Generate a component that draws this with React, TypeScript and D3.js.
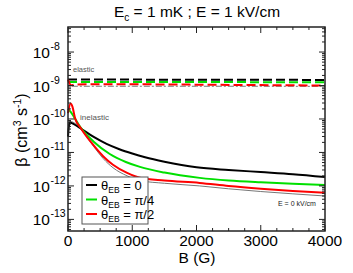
import React from 'react';
import * as d3 from 'd3';

// Magnetic field (G) and rates (cm^3 s^-1)
const elasticB = [0, 500, 1000, 2000, 3000, 4000];
const elasticBlack = [1.5e-9, 1.5e-9, 1.5e-9, 1.49e-9, 1.48e-9, 1.47e-9];
const elasticGreen = [1.28e-9, 1.28e-9, 1.27e-9, 1.27e-9, 1.26e-9, 1.25e-9];
const elasticRedB = [0, 50, 100, 500, 1000, 2000, 3000, 4000];
const elasticRed = [1.5e-9, 1.02e-9, 1.06e-9, 1.1e-9, 1.09e-9, 1.06e-9, 1.03e-9, 1.0e-9];
const elasticGrayB = [60, 500, 1000, 2000, 3000, 4000];
const elasticGray = [9.5e-10, 9.5e-10, 9.5e-10, 9.5e-10, 9.5e-10, 9.4e-10];

const inelBlackB = [0, 25, 60, 120, 200, 400, 600, 800, 1000, 1200, 1500, 2000, 2500, 3000, 3500, 4000];
const inelBlack = [3e-11, 8e-11, 7.5e-11, 6.5e-11, 5.2e-11, 2.9e-11, 1.8e-11, 1.25e-11, 9.3e-12, 7.2e-12, 5.3e-12, 3.6e-12, 3.0e-12, 2.6e-12, 2.25e-12, 1.85e-12];
const inelGreenB = [0, 50, 100, 200, 400, 650, 900, 1120, 1500, 2050, 2500, 3000, 3500, 4000];
const inelGreen = [2.0e-10, 1.55e-10, 1.1e-10, 5.4e-11, 2.1e-11, 9e-12, 5.2e-12, 3.7e-12, 2.5e-12, 1.74e-12, 1.45e-12, 1.28e-12, 1.16e-12, 1.07e-12];
const inelRedB = [0, 40, 70, 110, 200, 390, 550, 700, 920, 1120, 1500, 2050, 2500, 3000, 3500, 4000];
const inelRed = [1.5e-10, 2.9e-10, 2.3e-10, 1.05e-10, 5.3e-11, 1.7e-11, 7.6e-12, 4.3e-12, 2.45e-12, 1.75e-12, 1.45e-12, 1.23e-12, 1.0e-12, 8.3e-13, 7.1e-13, 6.2e-13];
const inelGrayB = [0, 30, 80, 200, 400, 550, 700, 920, 1120, 1500, 2050, 2500, 3000, 3500, 4000];
const inelGray = [4e-11, 8.5e-11, 8e-11, 5e-11, 1.5e-11, 6.5e-12, 3.5e-12, 2.0e-12, 1.45e-12, 1.2e-12, 1.0e-12, 8.2e-13, 6.8e-13, 5.8e-13, 5.0e-13];

const xTicks = [0, 1000, 2000, 3000, 4000];
const yExponents = [-8, -9, -10, -11, -12, -13];
const legendLabels = ['0', 'π/4', 'π/2'];
const seriesColors = ['#000000', '#00e000', '#ff0000'];

const FONT = 'Liberation Sans, Arial, Helvetica, sans-serif';
const W = 353;
const H = 273;
const left = 68, right = 325, top = 27, bottom = 231;

export default function App() {
  const x = d3.scaleLinear().domain([0, 4000]).range([left, right]);
  const y = d3.scaleLog().domain([4.5e-14, 5.6e-8]).range([bottom, top]);

  const line = (bs: number[], vs: number[]) =>
    d3.line<number>()
      .x((_, i) => x(bs[i]))
      .y(d => y(d))
      .curve(d3.curveMonotoneX)(vs) || '';

  const xMinor = d3.range(0, 4001, 250).filter(v => v % 1000 !== 0);
  const yMinor: number[] = [];
  for (let e = -14; e <= -8; e++) {
    for (let m = 2; m <= 9; m++) {
      const v = m * Math.pow(10, e);
      if (v > 4.5e-14 && v < 5.6e-8) yMinor.push(v);
    }
  }

  const axisColor = '#222';

  return (
    <svg width={W} height={H} style={{ position: 'absolute', left: 0, top: 0 }} fontFamily={FONT}>
      <rect width={W} height={H} fill="#fff" />
      {/* title */}
      <text x={197} y={17} fontSize={15.5} textAnchor="middle">
        E<tspan fontSize={10} dy={4}>c</tspan><tspan dy={-4}> = 1 mK ; E = 1 kV/cm</tspan>
      </text>

      {/* curves */}
      <g fill="none">
        <path d={line(inelGrayB, inelGray)} stroke="#777" strokeWidth={1} />
        <path d={line(inelBlackB, inelBlack)} stroke={seriesColors[0]} strokeWidth={2} />
        <path d={line(inelGreenB, inelGreen)} stroke={seriesColors[1]} strokeWidth={2} />
        <path d={line(inelRedB, inelRed)} stroke={seriesColors[2]} strokeWidth={2} />
        <path d={line(elasticGrayB, elasticGray)} stroke="#777" strokeWidth={1} strokeDasharray="6,2,2,2" />
        <path d={line(elasticB, elasticBlack)} stroke={seriesColors[0]} strokeWidth={2} strokeDasharray="9,4" />
        <path d={line(elasticB, elasticGreen)} stroke={seriesColors[1]} strokeWidth={2} strokeDasharray="9,4" />
        <path d={line(elasticRedB, elasticRed)} stroke={seriesColors[2]} strokeWidth={2} strokeDasharray="9,4" />
      </g>

      {/* frame */}
      <rect x={left} y={top} width={right - left} height={bottom - top} fill="none" stroke={axisColor} strokeWidth={1.5} />

      {/* x ticks */}
      <g stroke={axisColor} strokeWidth={1}>
        {xTicks.map(t => (
          <g key={'xt' + t}>
            <line x1={x(t)} x2={x(t)} y1={bottom} y2={bottom - 6} />
            <line x1={x(t)} x2={x(t)} y1={top} y2={top + 6} />
          </g>
        ))}
        {xMinor.map(t => (
          <g key={'xm' + t}>
            <line x1={x(t)} x2={x(t)} y1={bottom} y2={bottom - 3} />
            <line x1={x(t)} x2={x(t)} y1={top} y2={top + 3} />
          </g>
        ))}
        {yExponents.map(e => (
          <g key={'yt' + e}>
            <line x1={left} x2={left + 6} y1={y(Math.pow(10, e))} y2={y(Math.pow(10, e))} />
            <line x1={right} x2={right - 6} y1={y(Math.pow(10, e))} y2={y(Math.pow(10, e))} />
          </g>
        ))}
        {yMinor.map((v, i) => (
          <g key={'ym' + i}>
            <line x1={left} x2={left + 3} y1={y(v)} y2={y(v)} />
            <line x1={right} x2={right - 3} y1={y(v)} y2={y(v)} />
          </g>
        ))}
      </g>

      {/* x tick labels */}
      {xTicks.map(t => (
        <text key={'xl' + t} x={x(t)} y={246} fontSize={15.5} textAnchor="middle">{t}</text>
      ))}
      <text x={197} y={263} fontSize={15.5} textAnchor="middle">B (G)</text>

      {/* y tick labels */}
      {yExponents.map(e => (
        <text key={'yl' + e} x={50} y={y(Math.pow(10, e)) + 6} fontSize={15.5} textAnchor="end">
          10
        </text>
      ))}
      {yExponents.map(e => (
        <text key={'ye' + e} x={50.5} y={y(Math.pow(10, e)) - 2} fontSize={10.5}>
          {'-' + Math.abs(e)}
        </text>
      ))}

      {/* y axis label */}
      <text transform="translate(27,130) rotate(-90)" fontSize={16} textAnchor="middle">
        β (cm<tspan fontSize={10.5} dy={-6}>3</tspan><tspan dy={6}> s</tspan><tspan fontSize={10.5} dy={-6}>-1</tspan><tspan dy={6}>)</tspan>
      </text>

      {/* annotations */}
      <text x={73} y={72} fontSize={7.5} fill="#555">elastic</text>
      <text x={80} y={120} fontSize={8} fill="#555">inelastic</text>
      <text x={278} y={206} fontSize={7} fill="#222">E = 0 kV/cm</text>

      {/* legend */}
      <rect x={82} y={177} width={66} height={47} fill="#fff" stroke="#555" strokeWidth={1} />
      {legendLabels.map((lab, i) => (
        <g key={'lg' + i} transform={`translate(0,${185 + i * 14.5})`}>
          <line x1={86} x2={97} y1={0} y2={0} stroke={seriesColors[i]} strokeWidth={2} />
          <text x={101} y={5} fontSize={13}>
            θ<tspan fontSize={8.5} dy={3}>EB</tspan><tspan dy={-3}>{' = ' + lab}</tspan>
          </text>
        </g>
      ))}
    </svg>
  );
}
